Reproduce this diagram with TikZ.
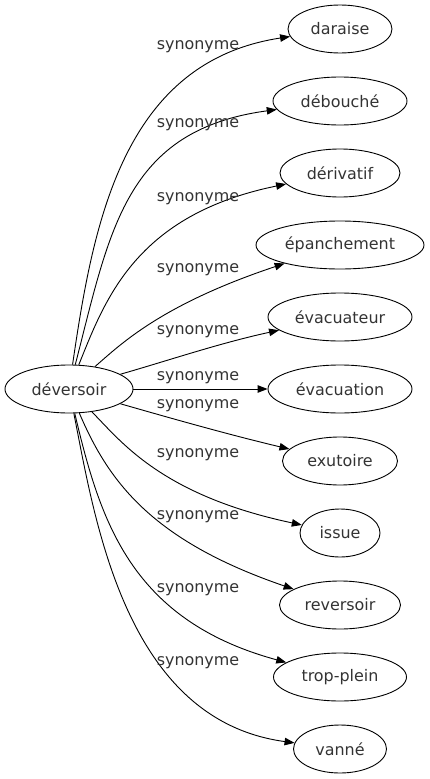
\documentclass[tikz,border=0pt]{standalone}
\usepackage{fontspec}
\setmainfont{DejaVu Sans}
\usetikzlibrary{shapes.geometric,arrows.meta}
\definecolor{txt}{HTML}{333333}
\tikzset{
  word/.style={ellipse,draw=black,line width=0.9bp,inner sep=0pt,minimum height=48bp,text=txt,font=\fontsize{16}{19}\selectfont},
  lbl/.style={inner sep=0pt,text=txt,font=\fontsize{16}{19}\selectfont},
  edge/.style={draw=black,line width=0.9bp,-{Triangle[length=10bp,width=7.5bp]}}
}
\begin{document}
\begin{tikzpicture}[x=1bp,y=-1bp]
\useasboundingbox (0,0) rectangle (429,779);
\node[word,minimum width=128bp] (dev) at (69,389) {déversoir};
\node[word,minimum width=104bp] (n1) at (340,29) {daraise};
\node[word,minimum width=134bp] (n2) at (340,101) {débouché};
\node[word,minimum width=120bp] (n3) at (340,173) {dérivatif};
\node[word,minimum width=168bp] (n4) at (340,245) {épanchement};
\node[word,minimum width=144bp] (n5) at (340,317) {évacuateur};
\node[word,minimum width=144bp] (n6) at (340,389) {évacuation};
\node[word,minimum width=115bp] (n7) at (340,461) {exutoire};
\node[word,minimum width=80bp] (n8) at (340,533) {issue};
\node[word,minimum width=121bp] (n9) at (340,605) {reversoir};
\node[word,minimum width=133bp] (n10) at (340,677) {trop-plein};
\node[word,minimum width=93bp] (n11) at (340,749) {vanné};

\draw[edge] (dev) .. controls (93,225) and (122,62) .. (n1);
\draw[edge] (dev) .. controls (110,230) and (125,130) .. (n2);
\draw[edge] (dev) .. controls (105,300) and (135,215) .. (n3);
\draw[edge] (dev) .. controls (120,345) and (160,305) .. (n4);
\draw[edge] (dev) .. controls (170,360) and (220,343) .. (n5);
\draw[edge] (dev) -- (n6);
\draw[edge] (dev) .. controls (170,418) and (230,435) .. (n7);
\draw[edge] (dev) .. controls (120,440) and (160,495) .. (n8);
\draw[edge] (dev) .. controls (108,480) and (150,540) .. (n9);
\draw[edge] (dev) .. controls (100,520) and (130,620) .. (n10);
\draw[edge] (dev) .. controls (95,520) and (125,720) .. (n11);

\node[lbl] (l1) at (198,47) {synonyme};
\node[lbl] (l2) at (198,125) {synonyme};
\node[lbl] (l3) at (198,199) {synonyme};
\node[lbl] (l4) at (198,270) {synonyme};
\node[lbl] (l5) at (198,332) {synonyme};
\node[lbl] (l6) at (198,378) {synonyme};
\node[lbl] (l7) at (198,406) {synonyme};
\node[lbl] (l8) at (198,455) {synonyme};
\node[lbl] (l9) at (198,517) {synonyme};
\node[lbl] (l10) at (198,590) {synonyme};
\node[lbl] (l11) at (198,663) {synonyme};
\end{tikzpicture}
\end{document}
